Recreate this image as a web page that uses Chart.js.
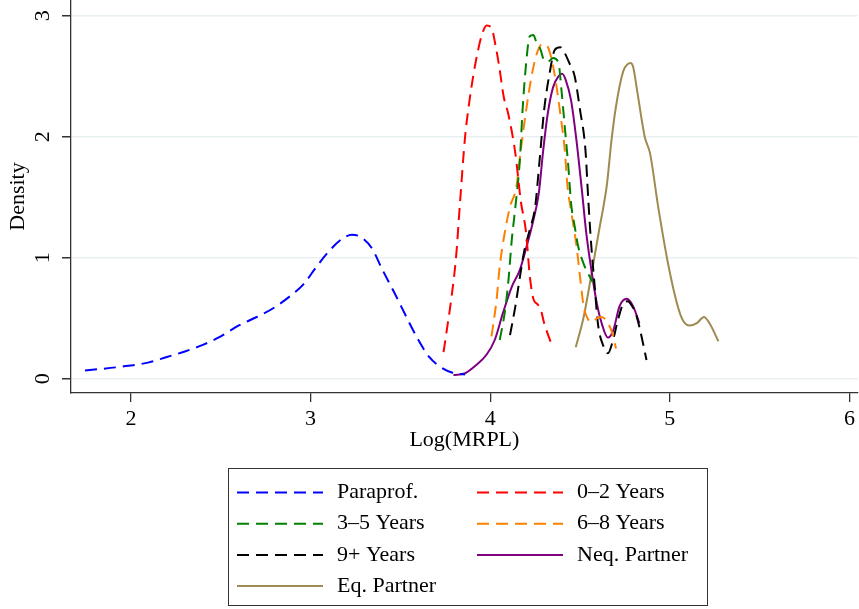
<!doctype html>
<html>
<head>
<meta charset="utf-8" />
<title>Log(MRPL) density</title>
<script src="https://cdn.jsdelivr.net/npm/chart.js"></script>
<style>
  html, body { margin: 0; padding: 0; background: #fff; }
  #wrap { width: 859px; height: 609px; }
</style>
</head>
<body>
<div id="wrap"><canvas id="c" width="859" height="609"></canvas></div>
<script>
// values
const xTicks = [2, 3, 4, 5, 6];
const yTicks = [0, 1, 2, 3];
const seriesNames = ['Paraprof.', '0\u20132 Years', '3\u20135 Years', '6\u20138 Years', '9+ Years', 'Neq. Partner', 'Eq. Partner'];

const paraprofX = [1.744, 1.95, 2.10, 2.20, 2.30, 2.40, 2.50, 2.60, 2.70, 2.80, 2.90, 2.96, 3.03, 3.10, 3.17, 3.23, 3.28, 3.34, 3.40, 3.47, 3.54, 3.60, 3.66, 3.72, 3.79, 3.86];
const paraprofY = [0.068, 0.10, 0.135, 0.18, 0.225, 0.28, 0.35, 0.44, 0.51, 0.59, 0.70, 0.78, 0.92, 1.05, 1.15, 1.19, 1.17, 1.08, 0.90, 0.70, 0.49, 0.32, 0.18, 0.10, 0.05, 0.035];

const yrs02X = [3.74, 3.76, 3.785, 3.81, 3.83, 3.86, 3.88, 3.905, 3.93, 3.955, 3.98, 4.007, 4.03, 4.05, 4.075, 4.10, 4.14, 4.17, 4.20, 4.22, 4.24, 4.26, 4.28, 4.30, 4.34];
const yrs02Y = [0.22, 0.42, 0.68, 1.01, 1.42, 2.0, 2.25, 2.50, 2.70, 2.85, 2.92, 2.90, 2.75, 2.58, 2.33, 2.19, 1.86, 1.47, 1.20, 0.85, 0.66, 0.62, 0.58, 0.46, 0.29];

const yrs35X = [4.053, 4.08, 4.10, 4.12, 4.14, 4.165, 4.18, 4.20, 4.22, 4.24, 4.255, 4.28, 4.30, 4.32, 4.35, 4.38, 4.395, 4.415, 4.435, 4.45, 4.47, 4.49, 4.52, 4.555, 4.57];
const yrs35Y = [0.32, 0.54, 0.79, 1.15, 1.42, 1.81, 2.22, 2.61, 2.83, 2.84, 2.79, 2.72, 2.63, 2.62, 2.65, 2.61, 2.41, 2.08, 1.75, 1.45, 1.26, 1.09, 0.95, 0.84, 0.80];

const yrs68X = [4.007, 4.035, 4.053, 4.08, 4.11, 4.146, 4.17, 4.20, 4.23, 4.26, 4.285, 4.31, 4.335, 4.36, 4.39, 4.415, 4.43, 4.45, 4.48, 4.50, 4.52, 4.545, 4.57, 4.595, 4.62, 4.655, 4.685, 4.70];
const yrs68Y = [0.35, 0.65, 0.93, 1.20, 1.42, 1.59, 1.89, 2.22, 2.50, 2.69, 2.76, 2.76, 2.68, 2.50, 2.19, 1.89, 1.59, 1.39, 1.10, 0.84, 0.60, 0.49, 0.47, 0.50, 0.51, 0.46, 0.35, 0.25];

const yrs9X = [4.11, 4.14, 4.165, 4.19, 4.22, 4.25, 4.275, 4.30, 4.33, 4.36, 4.39, 4.415, 4.44, 4.47, 4.50, 4.53, 4.545, 4.56, 4.58, 4.60, 4.63, 4.655, 4.68, 4.71, 4.74, 4.765, 4.79, 4.81, 4.83, 4.87];
const yrs9Y = [0.36, 0.60, 0.84, 1.06, 1.23, 1.42, 1.81, 2.22, 2.52, 2.72, 2.74, 2.69, 2.61, 2.50, 2.22, 1.89, 1.50, 1.15, 0.79, 0.45, 0.27, 0.21, 0.30, 0.48, 0.62, 0.64, 0.60, 0.54, 0.43, 0.155];

const neqX = [3.795, 3.86, 3.92, 3.98, 4.025, 4.07, 4.12, 4.165, 4.20, 4.24, 4.27, 4.295, 4.32, 4.35, 4.38, 4.40, 4.42, 4.45, 4.48, 4.51, 4.535, 4.56, 4.59, 4.62, 4.655, 4.685, 4.72, 4.76, 4.795, 4.83];
const neqY = [0.03, 0.045, 0.11, 0.20, 0.32, 0.54, 0.76, 0.90, 1.08, 1.31, 1.53, 1.89, 2.19, 2.41, 2.50, 2.52, 2.47, 2.30, 1.97, 1.56, 1.20, 0.93, 0.65, 0.46, 0.34, 0.40, 0.60, 0.66, 0.60, 0.46];

const eqX = [4.476, 4.52, 4.57, 4.61, 4.63, 4.65, 4.675, 4.70, 4.74, 4.765, 4.78, 4.795, 4.82, 4.86, 4.89, 4.935, 4.99, 5.04, 5.07, 5.11, 5.15, 5.19, 5.22, 5.27];
const eqY = [0.26, 0.51, 0.92, 1.26, 1.42, 1.61, 1.97, 2.25, 2.54, 2.60, 2.61, 2.58, 2.36, 2.00, 1.86, 1.42, 0.95, 0.62, 0.49, 0.44, 0.46, 0.51, 0.46, 0.31];

const FONT = '"Liberation Serif", "Times New Roman", serif';
const DASH = [12, 7];

function pts(xs, ys) { return xs.map((x, i) => ({ x, y: ys[i] })); }

const styles = [
  { color: '#0000ff', dash: DASH },
  { color: '#ff0000', dash: DASH },
  { color: '#008000', dash: DASH },
  { color: '#ff8000', dash: DASH },
  { color: '#000000', dash: DASH },
  { color: '#800080', dash: [] },
  { color: '#9e8b52', dash: [] }
];
const allX = [paraprofX, yrs02X, yrs35X, yrs68X, yrs9X, neqX, eqX];
const allY = [paraprofY, yrs02Y, yrs35Y, yrs68Y, yrs9Y, neqY, eqY];

const datasets = seriesNames.map((name, i) => ({
  label: name,
  data: pts(allX[i], allY[i]),
  borderColor: styles[i].color,
  borderDash: styles[i].dash,
  borderWidth: 2,
  pointRadius: 0,
  fill: false,
  cubicInterpolationMode: 'monotone'
}));

// rotated y tick labels, like Stata draws them
const yLabels = {
  id: 'yLabels',
  afterDraw(chart) {
    const { ctx } = chart;
    const ys = chart.scales.y;
    ctx.save();
    ctx.fillStyle = '#000';
    ctx.font = '22px ' + FONT;
    ctx.textAlign = 'center';
    ctx.textBaseline = 'middle';
    for (const v of yTicks) {
      ctx.save();
      ctx.translate(43, ys.getPixelForValue(v));
      ctx.rotate(-Math.PI / 2);
      ctx.fillText(String(v), 0, 0);
      ctx.restore();
    }
    ctx.restore();
  }
};

// boxed two-column legend under the plot
const boxLegend = {
  id: 'boxLegend',
  afterDraw(chart) {
    const { ctx } = chart;
    ctx.save();
    ctx.strokeStyle = '#333';
    ctx.lineWidth = 1;
    ctx.strokeRect(228.5, 468.5, 479, 137);
    ctx.font = '22px ' + FONT;
    ctx.textBaseline = 'middle';
    ctx.textAlign = 'left';
    chart.data.datasets.forEach((ds, i) => {
      const col = i % 2, row = Math.floor(i / 2);
      const x0 = col ? 477 : 237;
      const y = 492.5 + row * 31.2;
      ctx.strokeStyle = ds.borderColor;
      ctx.lineWidth = 2;
      ctx.setLineDash(ds.borderDash);
      ctx.beginPath();
      ctx.moveTo(x0, y);
      ctx.lineTo(x0 + 86, y);
      ctx.stroke();
      ctx.setLineDash([]);
      ctx.fillStyle = '#000';
      ctx.fillText(ds.label, x0 + 100, y);
    });
    ctx.restore();
  }
};

new Chart(document.getElementById('c'), {
  type: 'line',
  data: { datasets },
  options: {
    responsive: false,
    animation: false,
    layout: { padding: { left: 0, right: 1, top: 0, bottom: 154 } },
    plugins: { legend: { display: false }, tooltip: { enabled: false } },
    scales: {
      x: {
        type: 'linear',
        min: 1.666,
        max: 6.046,
        afterBuildTicks: s => { s.ticks = xTicks.map(v => ({ value: v })); },
        afterFit: s => { s.height = 62; },
        grid: { drawOnChartArea: false, drawTicks: true, tickLength: 9, tickColor: '#333', lineWidth: 1.3 },
        border: { color: '#333', width: 1.3 },
        ticks: { color: '#000', padding: 4, font: { family: FONT, size: 22, lineHeight: 1.2 }, maxRotation: 0 },
        title: { display: true, text: 'Log(MRPL)', color: '#000', padding: { top: 0, bottom: 4 }, font: { family: FONT, size: 22, lineHeight: 1 } }
      },
      y: {
        type: 'linear',
        min: -0.118,
        max: 3.13,
        afterBuildTicks: s => { s.ticks = yTicks.map(v => ({ value: v })); },
        afterFit: s => { s.width = 71; },
        grid: { color: '#e8f0f2', lineWidth: 1.5, drawTicks: true, tickLength: 9, tickColor: '#333' },
        border: { color: '#333', width: 1.3 },
        ticks: { display: false },
        title: { display: true, text: 'Density', color: '#000', padding: { top: 7, bottom: 0 }, font: { family: FONT, size: 22, lineHeight: 1 } }
      }
    }
  },
  plugins: [yLabels, boxLegend]
});
</script>
</body>
</html>
